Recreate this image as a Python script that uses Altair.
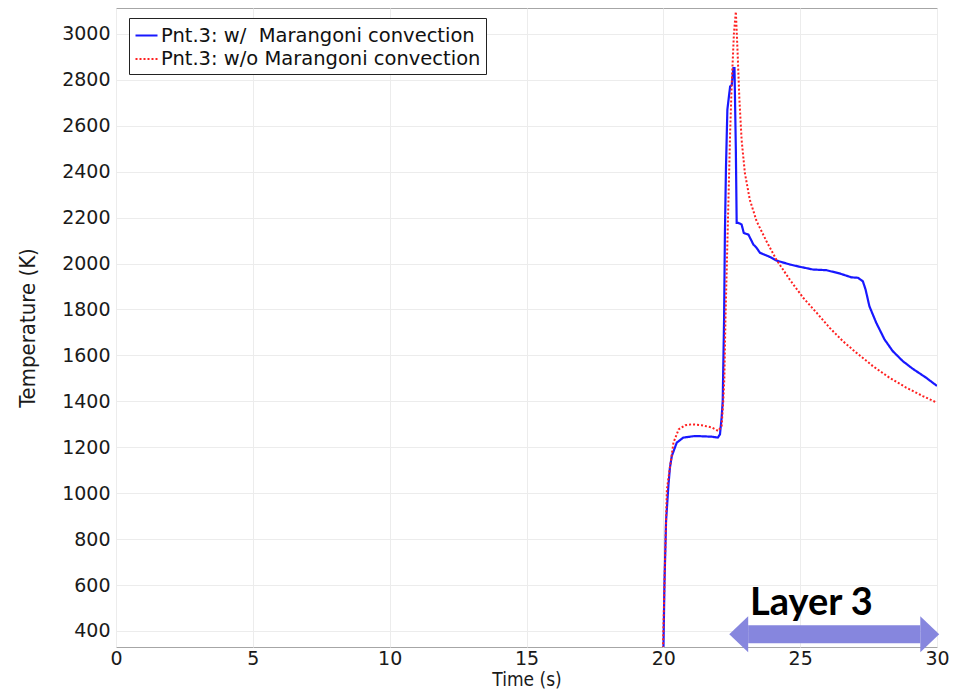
import altair as alt
import pandas as pd

series_names = ["Pnt.3: w/\u00a0 Marangoni convection", "Pnt.3: w/o Marangoni convection"]

t_with = [20.0, 20.04, 20.10, 20.19, 20.24, 20.31, 20.49, 20.73, 21.16, 21.77, 21.99, 22.07, 22.13, 22.17,
          22.22, 22.25, 22.29, 22.34, 22.44, 22.50, 22.56, 22.60, 22.65, 22.68, 22.74, 22.86, 22.94, 23.11,
          23.29, 23.41, 23.53, 23.89, 24.14, 24.62, 24.98, 25.47, 25.96, 26.44, 26.87, 27.11, 27.29, 27.39,
          27.53, 27.78, 28.08, 28.38, 28.75, 29.11, 29.60, 30.0]
T_with = [290, 600, 880, 1040, 1110, 1162, 1220, 1242, 1249, 1246, 1242, 1256, 1329, 1401,
          1757, 2133, 2423, 2670, 2771, 2778, 2851, 2851, 2496, 2177, 2177, 2170, 2133, 2126,
          2083, 2068, 2047, 2029, 2013, 1996, 1986, 1974, 1971, 1957, 1940, 1938, 1923, 1887,
          1814, 1742, 1670, 1619, 1575, 1542, 1503, 1467]

t_without = [19.98, 20.06, 20.13, 20.25, 20.37, 20.56, 20.80, 21.04, 21.40, 21.77, 22.01, 22.13, 22.19,
             22.23, 22.27, 22.38, 22.44, 22.50, 22.58, 22.65, 22.71, 22.78, 22.86, 22.98, 23.16, 23.41,
             23.77, 24.13, 24.62, 25.11, 25.60, 26.08, 26.56, 27.05, 27.66, 28.26, 28.87, 29.48, 30.0]
T_without = [290, 700, 1017, 1119, 1220, 1278, 1296, 1300, 1296, 1286, 1271, 1293, 1401,
             1500, 1757, 2278, 2568, 2786, 3003, 3097, 2930, 2713, 2539, 2394, 2278, 2184,
             2097, 2017, 1930, 1851, 1786, 1720, 1662, 1612, 1553, 1503, 1460, 1423, 1394]

x_ticks = [0, 5, 10, 15, 20, 25, 30]
y_ticks = [400, 600, 800, 1000, 1200, 1400, 1600, 1800, 2000, 2200, 2400, 2600, 2800, 3000]

# annotation: "Layer 3" double arrow (data coords)
arrow_t = [23.10, 29.39]
arrow_T = 385
arrow_sides = ["left", "right"]
label_text = "Layer 3"
label_t = 25.41
label_T = 517

line_colors = ["#1818ff", "#ff2020"]
arrow_color = "#8686de"

df = pd.DataFrame({
    "t": t_with + t_without,
    "T": T_with + T_without,
    "series": [series_names[0]] * len(t_with) + [series_names[1]] * len(t_without),
})

xscale = alt.Scale(domain=[0, 30], nice=False, zero=False)
yscale = alt.Scale(domain=[330, 3113], nice=False, zero=False)
xaxis = alt.Axis(values=x_ticks, title="Time (s)", labelFlush=False, labelPadding=2, titlePadding=2,
                 titleFontSize=19)
yaxis = alt.Axis(values=y_ticks, title="Temperature (K)", format="d", labelFlush=False, labelPadding=6,
                 titlePadding=22, titleFontSize=22)


def X(f="t"):
    return alt.X(f"{f}:Q", scale=xscale, axis=xaxis)


def Y(f="T"):
    return alt.Y(f"{f}:Q", scale=yscale, axis=yaxis)


lines = alt.Chart(df).mark_line(clip=True).encode(
    x=X(), y=Y(),
    color=alt.Color("series:N", scale=alt.Scale(domain=series_names, range=line_colors), title=None,
                    legend=alt.Legend(orient="none", legendX=13, legendY=10, symbolType="stroke", symbolSize=484,
                                      symbolStrokeWidth=2, labelFont="DejaVu Sans", labelFontSize=19.5,
                                      labelColor="#111111", labelOffset=2, rowPadding=2, padding=5,
                                      labelLimit=600, strokeColor="#222222", fillColor="white")),
    strokeDash=alt.StrokeDash("series:N", scale=alt.Scale(domain=series_names, range=[[1, 0], [2, 2]]), title=None),
    strokeWidth=alt.StrokeWidth("series:N", scale=alt.Scale(domain=series_names, range=[2.2, 2]), legend=None),
    order=alt.Order("idx:Q"),
).transform_window(idx="row_number()", groupby=["series"])

shaft_df = pd.DataFrame({"t": [arrow_t[0]], "t2": [arrow_t[1]], "T": [arrow_T]})
shaft = alt.Chart(shaft_df).mark_rule(color=arrow_color, strokeWidth=18, strokeCap="butt").encode(
    x=X(), x2=alt.X2("t2"), y=Y())

left_path = "M 0 -1 L 0 1 L -1.05 0 Z"
right_path = "M 0 -1 L 0 1 L 1.05 0 Z"
heads_df = pd.DataFrame({"t": arrow_t, "T": [arrow_T, arrow_T], "side": arrow_sides})
heads = alt.Chart(heads_df).mark_point(filled=True, size=1296, color=arrow_color, opacity=1, strokeWidth=0).encode(
    x=X(), y=Y(),
    shape=alt.Shape("side:N", scale=alt.Scale(domain=arrow_sides, range=[left_path, right_path]), legend=None))

label_df = pd.DataFrame({"t": [label_t], "T": [label_T], "txt": [label_text]})
label = alt.Chart(label_df).mark_text(font="Lato", fontWeight="bold", fontSize=38, color="black",
                                      align="center", baseline="middle").encode(
    x=X(), y=Y(), text="txt:N")

chart = alt.layer(lines, shaft, heads, label).properties(
    width=821, height=639,
    autosize=alt.AutoSizeParams(type="none"),
    padding={"left": 108, "top": 0, "right": 12, "bottom": 42},
).configure_view(stroke="#a6a6a6", strokeWidth=1).configure_axis(
    grid=True, gridColor="#ececec", domain=False, ticks=False,
    labelFont="DejaVu Sans", labelFontSize=19, labelColor="#1a1a1a",
    titleFont="DejaVu Sans Condensed, DejaVu Sans", titleFontWeight="normal",
    titleColor="#1a1a1a",
)

chart.save("out.html", embed_options={"renderer": "svg", "actions": False})
